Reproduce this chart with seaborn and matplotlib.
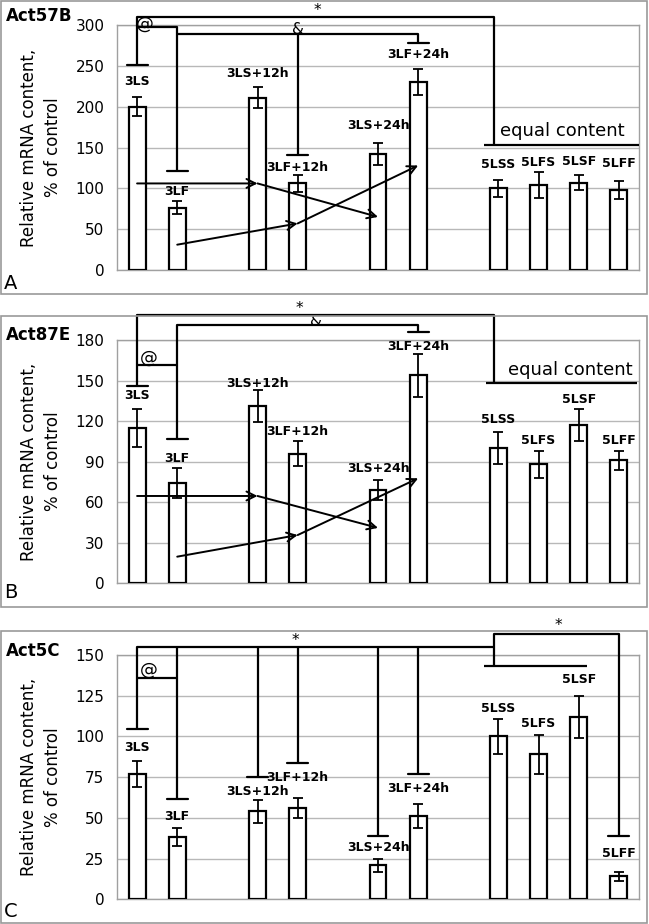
import pandas as pd
import matplotlib
matplotlib.use("Agg")
import matplotlib.pyplot as plt
from matplotlib.patches import Rectangle
import seaborn as sns

# bar groups and the slot order on the x axis (gaps keep the blocks apart)
groups = ["3LS", "3LF", "3LS+12h", "3LF+12h", "3LS+24h", "3LF+24h",
          "5LSS", "5LFS", "5LSF", "5LFF"]
slots = ["3LS", "3LF", "gap1", "3LS+12h", "3LF+12h", "gap2",
         "3LS+24h", "3LF+24h", "gap3", "5LSS", "5LFS", "5LSF", "5LFF"]

# Act57B (panel A)
act57b_mean = [200, 76, 211, 106, 142, 230, 100, 104, 107, 98]
act57b_err = [12, 8, 13, 10, 14, 16, 10, 16, 9, 11]
act57b_label_y = [231, 96, 241, 126, 177, 264, 129, 132, 133, 130]

# Act87E (panel B)
act87e_mean = [115, 74, 131, 96, 69, 154, 100, 88, 117, 91]
act87e_err = [14, 11, 12, 9, 7.5, 16, 12, 10, 12, 7]
act87e_label_y = [139, 92, 148, 112, 85, 175, 121, 106, 136, 106]

# Act5C (panel C)
act5c_mean = [77, 38, 54, 56, 21, 51, 100, 89, 112, 14]
act5c_err = [8, 5.5, 7, 6, 4, 7.5, 11, 12, 13, 3]
act5c_label_y = [93, 51, 66, 75, 32, 68, 117, 108, 135, 28]

W, H = 649, 924


def pos(name):
    return slots.index(name)


def axes_rect(top_px, bottom_px):
    return [117 / W, (H - bottom_px) / H, 522 / W, (bottom_px - top_px) / H]


def line(ax, pts, lw=1.6):
    xs = [pos(p[0]) + p[1] if isinstance(p[0], str) else p[0] for p in pts]
    ys = [p[-1] for p in pts]
    ax.plot(xs, ys, color="black", lw=lw, clip_on=False, zorder=6,
            solid_capstyle="butt")


def cap(ax, name, y, half=0.26):
    x = pos(name)
    ax.plot([x - half, x + half], [y, y], color="black", lw=1.6,
            clip_on=False, zorder=6)


def arrow_path(ax, pts):
    for (n0, y0), (n1, y1) in zip(pts[:-1], pts[1:]):
        ax.annotate("", xy=(pos(n1), y1), xytext=(pos(n0), y0),
                    arrowprops=dict(arrowstyle="->", color="black", lw=1.4,
                                    mutation_scale=16, shrinkA=0, shrinkB=0),
                    zorder=6, annotation_clip=False)


def panel(ax, mean, err, label_y, ymax, step):
    df = pd.DataFrame({"group": groups, "value": mean})
    sns.barplot(data=df, x="group", y="value", order=slots, ax=ax,
                color="white", saturation=1, edgecolor="black",
                linewidth=1.6, width=0.42, errorbar=None, zorder=3)
    xs = [pos(g) for g in groups]
    ax.errorbar(xs, mean, yerr=err, fmt="none", ecolor="black",
                elinewidth=1.3, capsize=3.3, capthick=1.3, zorder=4)
    for g, ly in zip(groups, label_y):
        ax.text(pos(g), ly, g, ha="center", va="center", fontsize=9,
                fontweight="bold", zorder=7)
    ax.set_xlim(-0.5, len(slots) - 0.5)
    ax.set_ylim(0, ymax)
    ax.set_yticks(range(0, ymax + 1, step))
    ax.set_xticks([])
    ax.set_xlabel("")
    ax.set_ylabel("")
    ax.yaxis.grid(True, color="#b8b8b8", lw=1.0, zorder=0)
    ax.set_axisbelow(True)
    for s in ax.spines.values():
        s.set_color("#a0a0a0")
        s.set_linewidth(1.0)
    ax.tick_params(axis="y", colors="#a0a0a0", length=4, width=1, pad=5,
                   labelsize=11, labelcolor="black")


sns.set_theme(style="white")
plt.rcParams["font.family"] = ["DejaVu Sans"]
plt.rcParams["text.color"] = "black"
plt.rcParams["axes.labelcolor"] = "black"
plt.rcParams["ytick.color"] = "black"

fig = plt.figure(figsize=(W / 100, H / 100), dpi=100)

# panel frames
for top, bottom in [(1, 294), (315.5, 606.5), (631, 923)]:
    fig.add_artist(Rectangle((1 / W, 1 - bottom / H), 646 / W, (bottom - top) / H,
                             transform=fig.transFigure, fill=False,
                             ec="#999999", lw=1.2))

ax_a = fig.add_axes(axes_rect(25, 270))
ax_b = fig.add_axes(axes_rect(340, 583.3))
ax_c = fig.add_axes(axes_rect(655, 899.3))

panel(ax_a, act57b_mean, act57b_err, act57b_label_y, 300, 50)
panel(ax_b, act87e_mean, act87e_err, act87e_label_y, 180, 30)
panel(ax_c, act5c_mean, act5c_err, act5c_label_y, 150, 25)

# ---- panel A annotations
line(ax_a, [("3LS", 0, 251), ("3LS", 0, 310), ("gap3", 0.9, 310), ("gap3", 0.9, 153)])
cap(ax_a, "3LS", 251)
line(ax_a, [("gap3", 0.63, 153), (12.5, 153)])
line(ax_a, [("3LS", 0, 298), ("3LF", 0, 298), ("3LF", 0, 121)])
cap(ax_a, "3LF", 121)
line(ax_a, [("3LF", 0, 289), ("3LF+24h", 0, 289), ("3LF+24h", 0, 278)])
cap(ax_a, "3LF+24h", 278)
line(ax_a, [("3LF+12h", 0, 289), ("3LF+12h", 0, 141)])
cap(ax_a, "3LF+12h", 141)
ax_a.text(0.2, 301, "@", fontsize=13, ha="center", va="center", zorder=7)
ax_a.text(4.0, 295, "&", fontsize=11, ha="center", va="center", zorder=7)
ax_a.text(4.5, 318, "*", fontsize=11, ha="center", va="center", zorder=7)
ax_a.text(10.6, 170, "equal content", fontsize=13, ha="center", va="center")
arrow_path(ax_a, [("3LS", 106), ("3LS+12h", 106), ("3LS+24h", 65)])
arrow_path(ax_a, [("3LF", 31), ("3LF+12h", 57), ("3LF+24h", 128)])

# ---- panel B annotations
line(ax_b, [("3LS", 0, 146), ("3LS", 0, 198.5), ("gap3", 0.9, 198.5), ("gap3", 0.9, 148.4)])
cap(ax_b, "3LS", 146)
line(ax_b, [("gap3", 0.7, 148), (12.45, 148)])
line(ax_b, [("3LF", 0, 106.5), ("3LF", 0, 191), ("3LF+24h", 0, 191), ("3LF+24h", 0, 185.6)])
cap(ax_b, "3LF", 106.5)
cap(ax_b, "3LF+24h", 185.6)
line(ax_b, [("3LS", 0, 161.5), ("3LF", 0, 161.5)])
ax_b.text(0.3, 167, "@", fontsize=13, ha="center", va="center", zorder=7)
ax_b.text(4.05, 203, "*", fontsize=11, ha="center", va="center", zorder=7)
ax_b.text(4.45, 194, "&", fontsize=11, ha="center", va="center", zorder=7)
ax_b.text(10.8, 158, "equal content", fontsize=13, ha="center", va="center")
arrow_path(ax_b, [("3LS", 64.6), ("3LS+12h", 64.6), ("3LS+24h", 41)])
arrow_path(ax_b, [("3LF", 19.7), ("3LF+12h", 35.7), ("3LF+24h", 77.7)])

# ---- panel C annotations
line(ax_c, [("3LS", 0, 104.5), ("3LS", 0, 154.8), ("gap3", 0.9, 154.8)])
cap(ax_c, "3LS", 104.5)
for name, low in [("3LF", 61.4), ("3LS+12h", 75.3), ("3LF+12h", 83.9),
                  ("3LS+24h", 39), ("3LF+24h", 76.7)]:
    line(ax_c, [(name, 0, 154.8), (name, 0, low)])
    cap(ax_c, name, low)
line(ax_c, [("gap3", 0.9, 143.2), ("gap3", 0.9, 162.8), ("5LFF", 0, 162.8), ("5LFF", 0, 39)])
cap(ax_c, "5LFF", 39)
line(ax_c, [("gap3", 0.65, 143.2), ("5LSF", 0.2, 143.2)])
line(ax_c, [("3LS", 0, 135.6), ("3LF", 0, 135.6)])
ax_c.text(0.3, 141, "@", fontsize=13, ha="center", va="center", zorder=7)
ax_c.text(3.93, 159, "*", fontsize=11, ha="center", va="center", zorder=7)
ax_c.text(10.5, 168, "*", fontsize=11, ha="center", va="center", zorder=7)

# titles, panel letters and y labels
for title, top_px, letter, base_px, ax in [("Act57B", 7, "A", 289, ax_a),
                                           ("Act87E", 326, "B", 598, ax_b),
                                           ("Act5C", 642, "C", 917, ax_c)]:
    fig.text(6 / W, 1 - top_px / H, title, fontsize=12, fontweight="bold",
             ha="left", va="top")
    fig.text(4 / W, 1 - base_px / H, letter, fontsize=14, ha="left",
             va="baseline")
    b = ax.get_position()
    fig.text(41 / W, b.y0 + b.height / 2, "Relative mRNA content,\n% of control",
             fontsize=12, rotation=90, ha="center", va="center",
             multialignment="center", linespacing=1.4)

fig.savefig("out.png", dpi=100)
